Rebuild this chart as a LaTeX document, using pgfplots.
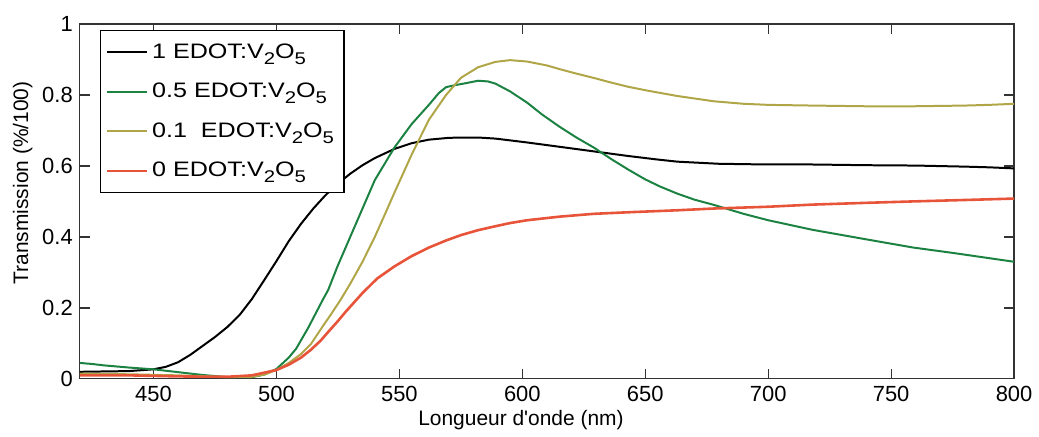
\documentclass[border=0pt]{standalone}
\usepackage{fontspec}
\setmainfont{Liberation Sans}
\newfontfamily\legfont{Liberation Sans}[FakeStretch=1.2]
\usepackage{pgfplots}
\usepackage{pgfplotstable}
\pgfplotsset{compat=1.18}
\definecolor{cgreen}{RGB}{28,130,66}
\definecolor{colive}{RGB}{176,166,72}
\definecolor{cred}{RGB}{232,84,58}
\newcommand{\sub}[1]{\raisebox{-0.55ex}{\fontsize{8.5}{9}\selectfont #1}}

\pgfplotstableread{
x y
420 0.020
430 0.021
440 0.022
450 0.027
455 0.034
460 0.047
465 0.068
470 0.093
475 0.118
480 0.146
485 0.180
490 0.225
495 0.278
500 0.332
505 0.388
510 0.437
515 0.480
520 0.518
525 0.550
530 0.578
535 0.602
540 0.622
548 0.648
555 0.664
562 0.674
570 0.679
575 0.680
582 0.680
589 0.677
595 0.672
602 0.666
615 0.654
629 0.641
643 0.628
655 0.618
663 0.612
680 0.606
700 0.604
718 0.604
740 0.602
760 0.601
780 0.598
790 0.596
800 0.593
}\tblack

\pgfplotstableread{
x y
420 0.045
425 0.042
430 0.038
440 0.032
450 0.027
460 0.019
470 0.011
480 0.005
490 0.005
495 0.012
500 0.028
505 0.060
508 0.085
513 0.145
519 0.225
521 0.250
525 0.320
530 0.400
535 0.480
540 0.560
548 0.652
555 0.718
562 0.772
566 0.805
569 0.822
573 0.828
577 0.833
582 0.840
586 0.838
589 0.832
595 0.810
602 0.778
608 0.745
615 0.711
622 0.680
629 0.652
636 0.620
643 0.590
650 0.562
656 0.542
663 0.522
670 0.505
678 0.490
690 0.465
700 0.447
718 0.420
740 0.393
759 0.370
775 0.355
790 0.340
800 0.330
}\tgreen

\pgfplotstableread{
x y
420 0.015
440 0.013
460 0.010
480 0.005
490 0.006
495 0.012
500 0.025
505 0.045
510 0.070
514 0.098
519 0.150
522 0.180
526 0.222
530 0.268
535 0.330
540 0.400
544 0.462
548 0.525
555 0.632
562 0.730
569 0.800
575 0.848
582 0.878
589 0.893
595 0.898
602 0.894
610 0.883
615 0.873
622 0.860
629 0.848
636 0.835
643 0.823
651 0.812
663 0.797
678 0.782
690 0.775
700 0.772
718 0.770
740 0.768
759 0.768
780 0.770
790 0.772
800 0.775
}\tolive

\pgfplotstableread{
x y
420 0.010
440 0.010
460 0.007
480 0.006
490 0.010
500 0.025
505 0.040
510 0.060
514 0.082
518 0.108
521 0.132
525 0.163
528 0.188
535 0.242
541 0.283
548 0.317
555 0.346
562 0.370
569 0.390
575 0.405
582 0.419
589 0.430
595 0.439
602 0.447
615 0.457
629 0.465
645 0.470
663 0.475
678 0.480
700 0.485
718 0.491
740 0.496
759 0.500
780 0.504
800 0.508
}\tred

\begin{document}
\begin{tikzpicture}
\begin{axis}[
  scale only axis,
  width=468.5pt, height=178pt,
  xmin=420, xmax=800, ymin=0, ymax=1,
  xtick={450,500,...,800},
  ytick={0,0.2,0.4,0.6,0.8,1},
  tick align=inside, tick pos=both,
  major tick length=5pt,
  axis line style={black!80, line width=0.6pt},
  tick style={black!80, line width=0.6pt},
  /pgf/number format/assume math mode=true,
  ticklabel style={font=\fontsize{11}{13}\selectfont},
  xlabel={Longueur d\textquotesingle onde (nm)},
  ylabel={Transmission (\%/100)},
  label style={font=\fontsize{10.5}{12}\selectfont},
  xlabel style={xshift=-13pt, yshift=2.5pt},
  ylabel style={at={(ticklabel cs:0.552)}, yshift=-2pt},
  legend cell align=left,
  legend style={at={(0.0213,0.983)}, anchor=north west, draw=black, line width=0.6pt,
    font=\legfont\fontsize{10.5}{12.5}\selectfont, row sep=7pt, inner xsep=3pt, inner ysep=4.5pt},
  legend image code/.code={\draw[#1, line width=1pt] (0pt,0pt) -- (20pt,0pt);},
  every axis plot/.append style={line width=1pt},
]
\addplot[black, no marks] table[x=x,y=y] {\tblack};
\addlegendentry{1 EDOT:V\sub{2}O\sub{5}}
\addplot[cgreen, no marks] table[x=x,y=y] {\tgreen};
\addlegendentry{0.5 EDOT:V\sub{2}O\sub{5}}
\addplot[colive, no marks] table[x=x,y=y] {\tolive};
\addlegendentry{0.1\ \ EDOT:V\sub{2}O\sub{5}}
\addplot[cred, no marks, line width=1.3pt] table[x=x,y=y] {\tred};
\addlegendentry{0 EDOT:V\sub{2}O\sub{5}}
\end{axis}
\path (-40pt,-26pt) rectangle (479.5pt,190pt);
\end{tikzpicture}
\end{document}
